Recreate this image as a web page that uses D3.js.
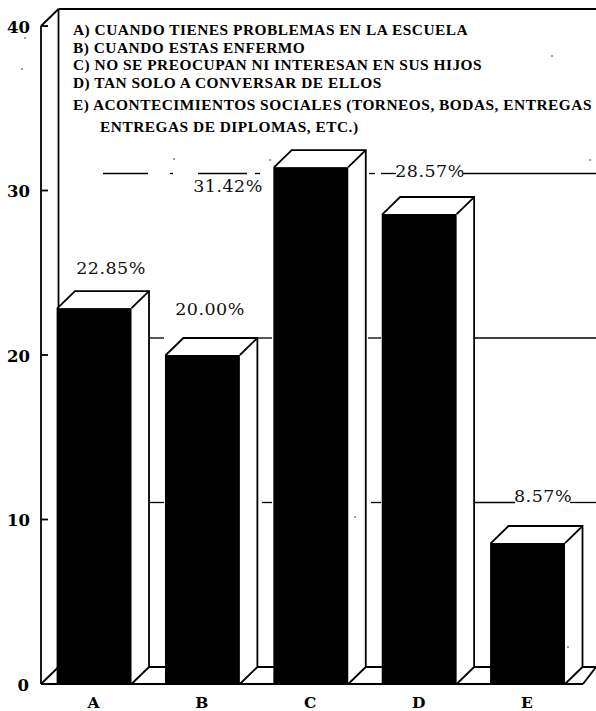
<!DOCTYPE html>
<html><head><meta charset="utf-8">
<style>html,body{margin:0;padding:0;background:#fff}svg{display:block}</style>
<script src="https://cdn.jsdelivr.net/npm/d3@7"></script></head>
<body><svg id="c" width="596" height="711"></svg>
<script>
const categories=["A","B","C","D","E"];
const values=[22.85,20.00,31.42,28.57,8.57];
const valueLabels=["22.85%","20.00%","31.42%","28.57%","8.57%"];
const yTicks=[0,10,20,30,40];
const legendLines=["A) CUANDO TIENES PROBLEMAS EN LA ESCUELA","B) CUANDO ESTAS ENFERMO","C) NO SE PREOCUPAN NI INTERESAN EN SUS HIJOS","D) TAN SOLO A CONVERSAR DE ELLOS","E) ACONTECIMIENTOS SOCIALES (TORNEOS, BODAS, ENTREGAS","ENTREGAS DE DIPLOMAS, ETC.)"];
// visible pieces of the broken gridlines: [value, from x, to x]
const gridPieces=[[30,103,148],[30,170,173],[30,198,247],[30,255,260],[30,369,375],[30,381,396],[30,463,596],
 [20,150,164],[20,256,272],[20,368,381],[20,473,596],
 [10,150,164],[10,262,272],[10,371,381],[10,473,515],[10,570,596]];
// scan specks seen in the reference: [x, y]
const specks=[[25,38],[22,69],[174,159],[552,56],[355,517],[568,647],[270,160],[590,160]];

const svg=d3.select("#c");
const y=d3.scaleLinear().domain([0,40]).range([684,26]);
const x=d3.scaleBand().domain(categories).range([57.5,565]).paddingInner(0.317).paddingOuter(0);
const dx=17.5,dy=17;
const ink="#000";
const line=(a,b,c,d,w=1.8)=>svg.append("line").attr("x1",a).attr("y1",b).attr("x2",c).attr("y2",d).attr("stroke",ink).attr("stroke-width",w);
const x0=41,xEnd=596;
line(x0,y(40),x0,y(0));
line(x0+dx,y(40)-dy,x0+dx,y(0)-dy);
line(x0+dx,y(40)-dy,xEnd,y(40)-dy);
line(x0,y(40),x0+dx,y(40)-dy);
line(x0,y(0),x0+dx,y(0)-dy);
line(x0,y(0),583,y(0));
line(58,y(0)-dy,xEnd,y(0)-dy);
line(583,y(0),xEnd,y(0)-dy);
yTicks.forEach(t=>{ if(t>0) line(x0,y(t),x0+7,y(t)); });
gridPieces.forEach(g=>line(g[1],y(g[0])-dy,g[2],y(g[0])-dy,1.3));
svg.selectAll("text.t").data(yTicks).join("text").attr("class","t")
 .attr("x",t=>t===0?29:30).attr("y",t=>y(t)+6.5).attr("text-anchor","end")
 .attr("font-family","DejaVu Serif").attr("font-weight","bold").attr("font-size",16.5).text(d=>d);
categories.forEach((c,i)=>{
 const l=x(c),w=x.bandwidth(),t=y(values[i]),b=y(0);
 const pts=[[l,t],[l+dx,t-dy],[l+w+dx,t-dy],[l+w+dx,b-dy],[l+w,b],[l,b]];
 svg.append("path").attr("d",d3.line()(pts)+"Z").attr("fill","#fff").attr("stroke",ink).attr("stroke-width",1.8);
 svg.append("line").attr("x1",l+w).attr("y1",t).attr("x2",l+w+dx).attr("y2",t-dy).attr("stroke",ink).attr("stroke-width",1.8);
 svg.append("rect").attr("x",l).attr("y",t).attr("width",w).attr("height",b-t).attr("fill",ink);
 svg.append("text").attr("x",l+w/2-1).attr("y",708).attr("text-anchor","middle")
  .attr("font-family","DejaVu Serif").attr("font-weight","bold").attr("font-size",15.5).text(c);
});
const labelPos=[[111,274],[210,315],[228,192],[430,177],[543,502]];
valueLabels.forEach((s,i)=>{
 svg.append("text").attr("x",labelPos[i][0]).attr("y",labelPos[i][1]).attr("text-anchor","middle")
  .attr("font-family","DejaVu Serif").attr("font-size",17.5).attr("letter-spacing",0.5).attr("fill","#111").text(s);
});
const legX=[73,73,73,73,73,100],legY=[35,53,70,88,110,132];
legendLines.forEach((s,i)=>{
 svg.append("text").attr("x",legX[i]).attr("y",legY[i])
  .attr("font-family","Liberation Serif").attr("font-weight","bold").attr("font-size",15.4).attr("letter-spacing",0.5)
  .attr("fill","#000").text(s);
});
svg.selectAll("circle.s").data(specks).join("circle").attr("class","s").attr("cx",d=>d[0]).attr("cy",d=>d[1]).attr("r",0.8).attr("fill","#222");
</script></body></html>
